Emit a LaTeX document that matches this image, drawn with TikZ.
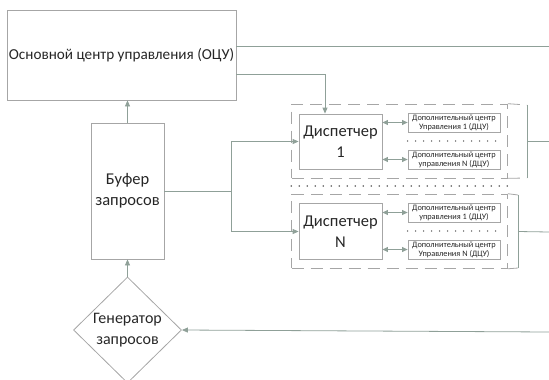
\documentclass[tikz,border=0pt]{standalone}
\usepackage{fontspec}
\setmainfont{Carlito}
\usetikzlibrary{shapes.geometric, arrows.meta, fit, positioning, calc}
\definecolor{boxgray}{HTML}{A6A6A6}
\definecolor{linegray}{HTML}{8FA098}
\tikzstyle{block} = [rectangle, draw=boxgray, line width=0.8pt, text=black!85, align=center, inner sep=2pt]
\tikzstyle{subbox} = [block, font=\fontsize{8.3}{9}\selectfont, minimum width=92pt, minimum height=19pt, inner sep=0pt]
\tikzstyle{conn} = [draw=linegray, line width=0.8pt]
\tikzstyle{arrow} = [conn, -{Triangle[length=6pt,width=5pt]}]
\tikzstyle{darrow} = [conn, {Triangle[length=5.5pt,width=5pt]}-{Triangle[length=5.5pt,width=5pt]}]
\tikzstyle{group} = [draw=boxgray, line width=0.8pt, dash pattern=on 12pt off 7pt, inner xsep=7pt, inner ysep=8.5pt]
\tikzstyle{dotline} = [draw=black!65, line width=1.7pt, line cap=round, dash pattern=on 0pt off 8pt]

\begin{document}
\begin{tikzpicture}[x=1pt, y=-1pt]
    \useasboundingbox (0,0) rectangle (549,380);

    \node[block, minimum width=225pt, minimum height=90pt, font=\fontsize{15.2}{18}\selectfont] (ocu) at (121.5,55) {Основной центр управления (ОЦУ)};
    \node[block, minimum width=73pt, minimum height=136pt, font=\fontsize{16.5}{21}\selectfont] (buf) at (127.5,191) {Буфер\\запросов};
    \node[diamond, draw=boxgray, line width=0.8pt, aspect=1, minimum width=108pt, minimum height=106pt, inner sep=0pt, align=center, text=black!85, font=\fontsize{16}{21}\selectfont] (gen) at (127.5,330) {Генератор\\запросов};

    % dispatcher 1 and its centres
    \node[block, minimum width=83pt, minimum height=55pt, font=\fontsize{16.5}{21}\selectfont] (disp1) at (340.5,141.5) {Диспетчер\\1};
    \node[subbox] (sub11) at (454,122.5) {Дополнительный центр\\Управления 1 (ДЦУ)};
    \node[subbox] (sub1N) at (454,159.5) {Дополнительный центр\\управления N (ДЦУ)};

    % dispatcher N and its centres
    \node[block, minimum width=83pt, minimum height=56pt, font=\fontsize{16.5}{21}\selectfont] (dispN) at (340.5,231.5) {Диспетчер\\N};
    \node[subbox] (subN1) at (454,212.5) {Дополнительный центр\\управления 1 (ДЦУ)};
    \node[subbox] (subNN) at (454,249.5) {Дополнительный центр\\Управления N (ДЦУ)};

    \node[group, fit=(disp1)(sub11)(sub1N)] (grp1) {};
    \node[group, fit=(dispN)(subN1)(subNN)] (grpN) {};

    \coordinate (br1t) at (527,105);
    \coordinate (br1b) at (527,178);
    \coordinate (brNt) at (518,195);
    \coordinate (brNb) at (518,268);
    \coordinate (split) at (231,191);
    \coordinate (out1) at (549,46);
    \coordinate (out2) at (549,141.5);
    \coordinate (out3) at (549,232);
    \coordinate (in1) at (549,332);

    % brackets
    \draw[group] (grp1.north east) -- (br1t);
    \draw[group] (grp1.south east) -- (br1b);
    \draw[conn] (br1t) -- (br1b);
    \draw[group] (grpN.north east) -- (brNt);
    \draw[group] (grpN.south east) -- (brNb);
    \draw[conn] (brNt) -- (brNb);

    % connectors
    \draw[conn] (ocu.east |- out1) -- (out1);
    \draw[arrow] ([yshift=-19pt]ocu.east) -| ([xshift=-15.5pt]disp1.north);
    \draw[arrow] (buf.north) -- (buf.north |- ocu.south);
    \draw[conn] (buf.east) -- (split);
    \draw[arrow] (split) |- (disp1.west);
    \draw[arrow] (split) |- (dispN.west);
    \draw[arrow] (gen.north) -- (buf.south);
    \draw[arrow] (in1) -- (gen.east);
    \draw[conn] ($(br1t)!0.5!(br1b)$) -- (out2);
    \draw[conn] ($(brNt)!0.5!(brNb)$) -- (out3);

    \draw[darrow] (disp1.east |- sub11) -- (sub11.west);
    \draw[darrow] (disp1.east |- sub1N) -- (sub1N.west);
    \draw[darrow] (dispN.east |- subN1) -- (subN1.west);
    \draw[darrow] (dispN.east |- subNN) -- (subNN.west);

    % dots
    \draw[dotline] ($(sub11.south west)!0.5!(sub1N.north west)$) -- ($(sub11.south east)!0.5!(sub1N.north east)$);
    \draw[dotline] ($(subN1.south west)!0.5!(subNN.north west)$) -- ($(subN1.south east)!0.5!(subNN.north east)$);
    \draw[dotline] ($(grp1.south west)!0.5!(grpN.north west)$) -- ($(grp1.south east)!0.5!(grpN.north east)$);
\end{tikzpicture}
\end{document}
